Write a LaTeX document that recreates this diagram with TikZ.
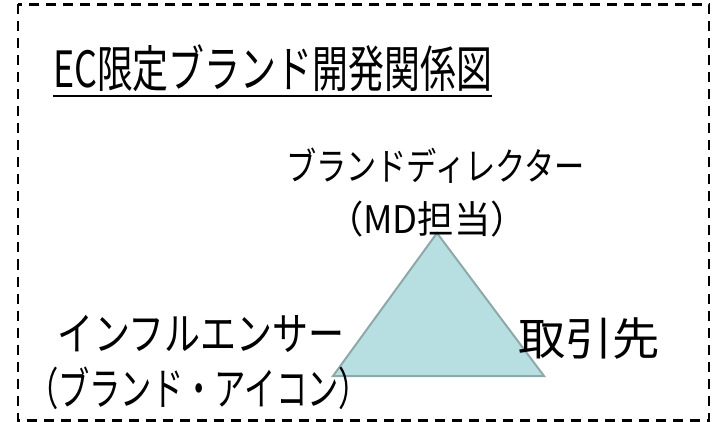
\documentclass[tikz,border=0pt]{standalone}
\usepackage{fontspec}
\usepackage{graphicx}
\newfontfamily\jp{Noto Sans CJK JP}
\definecolor{trifill}{HTML}{B7DEE1}
\definecolor{triline}{HTML}{8FA9AA}
\newcommand{\fitto}[2]{\resizebox{#1}{\height}{#2}}
\begin{document}
\begin{tikzpicture}[x=1pt,y=-1pt,
  big/.style={inner sep=0pt, font=\jp\fontsize{45}{50}\selectfont},
  small/.style={inner sep=0pt, font=\jp\fontsize{38}{44}\selectfont},
  ttl/.style={inner sep=0pt, font=\jp\fontsize{50}{54}\selectfont}]
\useasboundingbox (0,0) rectangle (715,422);
\draw[line width=2.2pt, dash pattern=on 10pt off 7pt] (18,4.5) rectangle (709,420.5);
\node[ttl] (title) at (272.5,68) {\fitto{439pt}{EC限定ブランド開発関係図}};
\draw[line width=2.2pt] ([yshift=-4pt]title.south west) -- ([yshift=-4pt]title.south east);
\coordinate (apex) at (437,233);
\coordinate (bl) at (333,376);
\coordinate (br) at (544,376);
\filldraw[fill=trifill, draw=triline, line width=2pt, line join=miter] (apex) -- (bl) -- (br) -- cycle;
\node[small] (md1) at (435.5,166) {\fitto{299pt}{ブランドディレクター}};
\node[small] (md2) at (427,219) {\fitto{200pt}{（MD担当）}};
\node[big] (inf1) at (201.5,334) {\fitto{287pt}{インフルエンサー}};
\node[big] (inf2) at (198.5,388) {\fitto{343pt}{（ブランド・アイコン）}};
\node[big] (tor) at (589,339) {\fitto{142pt}{取引先}};
\end{tikzpicture}
\end{document}
